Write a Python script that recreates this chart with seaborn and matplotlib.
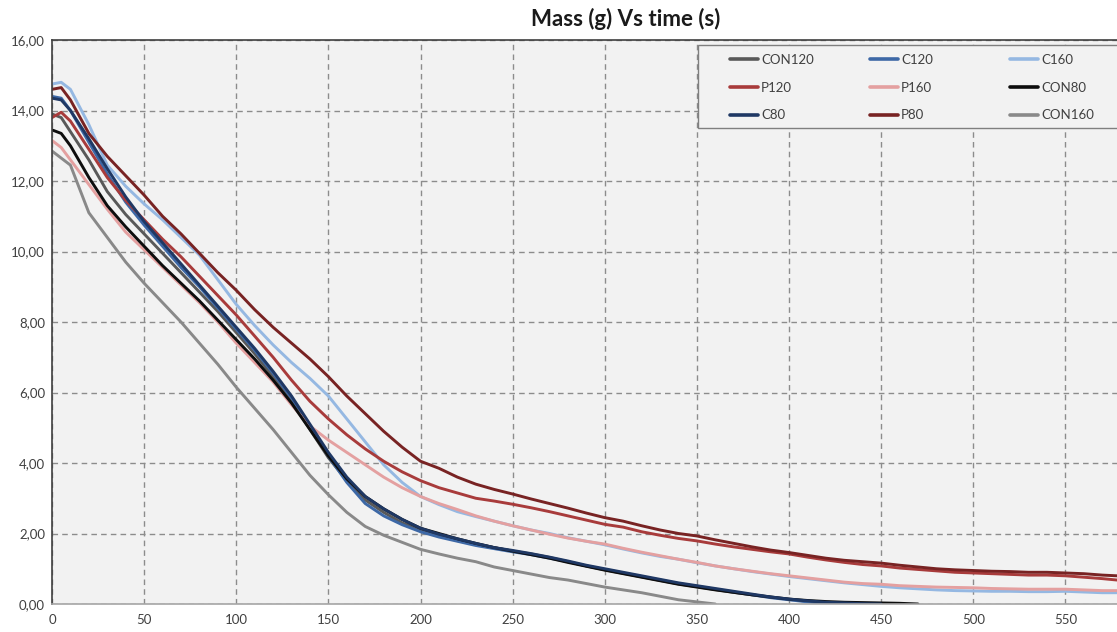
import matplotlib
matplotlib.use("Agg")
import matplotlib.pyplot as plt
import matplotlib.ticker as mticker
from matplotlib.patches import Rectangle
import pandas as pd
import seaborn as sns

# time axis (s)
time_s = [0, 5, 10] + list(range(20, 571, 10)) + [578]

con120 = [13.9, 13.8, 13.4, 12.6, 11.7, 11.05, 10.5, 9.95, 9.4, 8.85,
          8.3, 7.7, 7.1, 6.45, 5.75, 4.95, 4.15, 3.5, 2.95, 2.6,
          2.3, 2.1, 1.95, 1.8, 1.7, 1.6, 1.5, 1.42, 1.32, 1.2,
          1.08, 0.97, 0.87, 0.77, 0.67, 0.57, 0.49, 0.41, 0.33, 0.26,
          0.19, 0.13, 0.08, 0.04, 0.02, 0.0]
c120 = [14.4, 14.35, 14.0, 13.1, 12.2, 11.4, 10.75, 10.15, 9.55, 9.0,
        8.4, 7.8, 7.2, 6.55, 5.85, 5.05, 4.2, 3.45, 2.85, 2.5,
        2.25, 2.05, 1.9, 1.78, 1.66, 1.57, 1.48, 1.4, 1.3, 1.2,
        1.08, 0.98, 0.88, 0.78, 0.68, 0.58, 0.5, 0.42, 0.34, 0.26,
        0.18, 0.12, 0.06, 0.02, 0.0]
c160 = [14.75, 14.8, 14.6, 13.6, 12.45, 11.85, 11.35, 10.9, 10.4, 9.9,
        9.2, 8.5, 7.9, 7.35, 6.85, 6.4, 5.9, 5.25, 4.6, 3.95,
        3.45, 3.05, 2.82, 2.62, 2.48, 2.35, 2.22, 2.1, 2.0, 1.88,
        1.78, 1.68, 1.56, 1.45, 1.35, 1.27, 1.17, 1.08, 1.0, 0.92,
        0.85, 0.78, 0.72, 0.66, 0.6, 0.55, 0.5, 0.46, 0.43, 0.4,
        0.38, 0.37, 0.36, 0.36, 0.35, 0.35, 0.36, 0.34, 0.32, 0.32]
p120 = [13.8, 13.95, 13.7, 12.9, 12.1, 11.45, 10.9, 10.35, 9.85, 9.3,
        8.75, 8.2, 7.6, 7.0, 6.35, 5.75, 5.25, 4.8, 4.4, 4.05,
        3.75, 3.5, 3.3, 3.15, 3.0, 2.92, 2.83, 2.73, 2.62, 2.5,
        2.38, 2.26, 2.18, 2.05, 1.95, 1.86, 1.79, 1.7, 1.62, 1.55,
        1.48, 1.42, 1.33, 1.25, 1.18, 1.12, 1.08, 1.02, 0.98, 0.94,
        0.9, 0.88, 0.86, 0.84, 0.82, 0.82, 0.8, 0.76, 0.72, 0.68]
p160 = [13.15, 12.95, 12.6, 11.9, 11.2, 10.55, 10.05, 9.55, 9.05, 8.55,
        8.0, 7.4, 6.85, 6.3, 5.65, 5.05, 4.65, 4.3, 3.95, 3.6,
        3.3, 3.05, 2.85, 2.68, 2.5, 2.35, 2.22, 2.1, 1.98, 1.87,
        1.78, 1.7, 1.58, 1.47, 1.37, 1.27, 1.18, 1.08, 1.0, 0.93,
        0.86, 0.8, 0.74, 0.68, 0.62, 0.58, 0.56, 0.52, 0.5, 0.48,
        0.47, 0.46, 0.44, 0.43, 0.42, 0.42, 0.42, 0.4, 0.38, 0.38]
con80 = [13.45, 13.35, 13.0, 12.1, 11.3, 10.7, 10.15, 9.6, 9.1, 8.6,
         8.05, 7.5, 6.95, 6.35, 5.7, 4.95, 4.2, 3.55, 3.05, 2.7,
         2.4, 2.15, 2.0, 1.85, 1.72, 1.6, 1.5, 1.4, 1.3, 1.18,
         1.07, 0.96, 0.86, 0.76, 0.66, 0.56, 0.48, 0.4, 0.33, 0.26,
         0.2, 0.14, 0.1, 0.07, 0.05, 0.04, 0.03, 0.02, 0.0]
c80 = [14.35, 14.3, 14.0, 13.2, 12.35, 11.55, 10.85, 10.25, 9.65, 9.05,
       8.45, 7.85, 7.25, 6.6, 5.9, 5.1, 4.3, 3.6, 3.05, 2.7,
       2.4, 2.15, 1.98, 1.85, 1.72, 1.6, 1.52, 1.43, 1.33, 1.22,
       1.1, 1.0, 0.9, 0.8, 0.7, 0.6, 0.52, 0.44, 0.36, 0.28,
       0.2, 0.14, 0.09, 0.05, 0.03, 0.01, 0.0]
p80 = [14.6, 14.65, 14.3, 13.35, 12.7, 12.15, 11.6, 11.0, 10.5, 9.95,
       9.4, 8.9, 8.35, 7.85, 7.4, 6.95, 6.45, 5.9, 5.4, 4.9,
       4.45, 4.05, 3.85, 3.6, 3.4, 3.25, 3.12, 2.98, 2.85, 2.72,
       2.58, 2.45, 2.35, 2.22, 2.1, 2.0, 1.93, 1.82, 1.72, 1.62,
       1.53, 1.46, 1.38, 1.3, 1.24, 1.2, 1.16, 1.1, 1.05, 1.0,
       0.97, 0.95, 0.93, 0.92, 0.9, 0.9, 0.88, 0.86, 0.82, 0.8]
con160 = [12.85, 12.65, 12.45, 11.1, 10.4, 9.7, 9.1, 8.55, 8.0, 7.4,
          6.8, 6.15, 5.55, 4.95, 4.3, 3.65, 3.1, 2.6, 2.2, 1.95,
          1.75, 1.55, 1.42, 1.3, 1.2, 1.05, 0.95, 0.85, 0.75, 0.68,
          0.58, 0.48, 0.4, 0.32, 0.22, 0.12, 0.06, 0.0]

series = {"CON120": con120, "C120": c120, "C160": c160,
          "P120": p120, "P160": p160, "CON80": con80,
          "C80": c80, "P80": p80, "CON160": con160}
colors = {"CON120": "#595959", "C120": "#3D68A6", "C160": "#95B8E2",
          "P120": "#A83B3B", "P160": "#E4A0A0", "CON80": "#0D0D0D",
          "C80": "#1F3864", "P80": "#782323", "CON160": "#898989"}

# long form table, each series stops where it was cut off in the source
rows = []
for name, vals in series.items():
    for t, v in zip(time_s, vals):
        rows.append({"time": t, "mass": v, "sample": name})
df = pd.DataFrame(rows)

sns.set_theme(style="whitegrid")
plt.rcParams["font.family"] = ["Lato", "DejaVu Sans"]

fig = plt.figure(figsize=(11.17, 6.32), dpi=100)
ax = fig.add_axes([52 / 1117, 28 / 632, 1 - 52 / 1117, 564 / 632])
ax.set_facecolor("#F2F2F2")

sns.lineplot(data=df, x="time", y="mass", hue="sample", palette=colors,
             hue_order=list(series.keys()), linewidth=2.1, ax=ax, legend=True,
             estimator=None, sort=True)

ax.set_xlim(0, 578)
ax.set_ylim(0, 16)
ax.set_xticks(range(0, 551, 50))
ax.set_yticks(range(0, 17, 2))
ax.yaxis.set_major_formatter(mticker.FuncFormatter(lambda v, p: f"{v:.2f}".replace(".", ",")))
ax.set_xlabel("")
ax.set_ylabel("")
ax.grid(True, color="#8C8C8C", linestyle=(0, (4, 3)), linewidth=1)
ax.tick_params(axis="both", length=0, labelsize=9.5, colors="#404040")
ax.tick_params(axis="x", pad=7)
ax.tick_params(axis="y", pad=5)

for side in ["left", "top"]:
    ax.spines[side].set_color("#404040")
    ax.spines[side].set_linewidth(1.2)
ax.spines["bottom"].set_color("#A6A6A6")
ax.spines["bottom"].set_linewidth(1.2)
ax.spines["right"].set_visible(False)

# legend: Excel style box, row-wise order in 3 fixed-width columns
ax.add_patch(Rectangle((646 / 1065, 476 / 564), 0.45, 83 / 564, transform=ax.transAxes,
                       facecolor="#F2F2F2", edgecolor="#7F7F7F", linewidth=1,
                       zorder=5, clip_on=False))
handles, labels = ax.get_legend_handles_labels()
lookup = dict(zip(labels, handles))
ax.get_legend().remove()
columns = [["CON120", "P120", "C80"], ["C120", "P160", "P80"], ["C160", "CON80", "CON160"]]
col_x = [730, 870, 1010]
legends = []
for names, px in zip(columns, col_x):
    leg = ax.legend([lookup[k] for k in names], names, ncol=1, loc="upper left",
                    bbox_to_anchor=((px - 52) / 1065, 0.9752), borderaxespad=0, borderpad=0,
                    frameon=False, fontsize=9.5, handlelength=2.1, handletextpad=0.25,
                    labelspacing=1.18)
    leg.set_zorder(6)
    for h in leg.get_lines():
        h.set_linewidth(2.6)
    for txt in leg.get_texts():
        txt.set_color("#404040")
    legends.append(leg)
ax.legend_ = None
for leg in legends:
    ax.add_artist(leg)

fig.text(626 / 1117, 1 - 19 / 632, "Mass (g) Vs time (s)",
         ha="center", va="center", fontsize=16, fontweight="bold", color="#1a1a1a")

fig.savefig("out.png", dpi=100)
